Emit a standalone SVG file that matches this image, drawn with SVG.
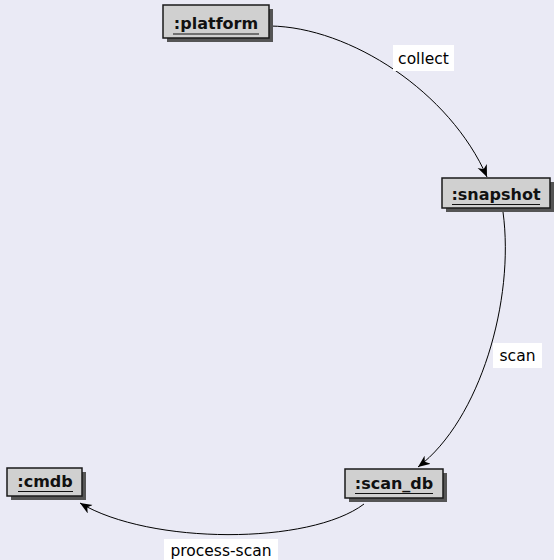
<svg xmlns="http://www.w3.org/2000/svg" width="554" height="560" viewBox="0 0 554 560">
<style>
.shadow{fill:#555555}
.box{fill:#d0d0d0;stroke:#1a1a1a;stroke-width:1.5}
.nt{font-family:"DejaVu Sans",sans-serif;font-weight:bold;font-size:16px;fill:#111;text-anchor:middle}
.ul{stroke:#111;stroke-width:1}
.edge{fill:none;stroke:#000;stroke-width:1;marker-end:url(#arr)}
.lbg{fill:#ffffff}
.lt{font-family:"DejaVu Sans",sans-serif;font-size:15.5px;fill:#000;text-anchor:middle}
</style>
<defs>
<marker id="arr" markerUnits="userSpaceOnUse" markerWidth="14" markerHeight="12" refX="12" refY="5" orient="auto">
<path d="M0,0 L12,5 L0,10 L3.5,5 Z" fill="#000"/>
</marker>
</defs>
<rect x="0" y="0" width="554" height="560" fill="#eaeaf5"/>
<g id="connectors">
<path class="edge" d="M270 26 C350 27 450 92 487 177"/>
<path class="edge" d="M503 212 C515 300 480 420 418 467"/>
<path class="edge" d="M364 504 C310 545 150 545 80 503"/>
<rect class="lbg" x="393" y="45" width="61" height="26"/>
<text class="lt" x="423.5" y="64">collect</text>
<rect class="lbg" x="493" y="343" width="49" height="25"/>
<text class="lt" x="517.5" y="361">scan</text>
<rect class="lbg" x="164" y="539" width="114" height="21"/>
<text class="lt" x="221" y="556">process-scan</text>
</g>
<g id="platform">
<rect class="shadow" x="167" y="9" width="106" height="33"/>
<rect class="box" x="163" y="5" width="106" height="33"/>
<text class="nt" x="216" y="29">:platform</text>
<line class="ul" x1="173" y1="34" x2="259" y2="34"/>
</g>
<g id="snapshot">
<rect class="shadow" x="446" y="182" width="108" height="30"/>
<rect class="box" x="442" y="178" width="108" height="30"/>
<text class="nt" x="496" y="200">:snapshot</text>
<line class="ul" x1="452" y1="204.5" x2="540" y2="204.5"/>
</g>
<g id="scan_db">
<rect class="shadow" x="349" y="473" width="98" height="29"/>
<rect class="box" x="345" y="469" width="98" height="29"/>
<text class="nt" x="394" y="489">:scan_db</text>
<line class="ul" x1="355" y1="493.5" x2="433" y2="493.5"/>
</g>
<g id="cmdb">
<rect class="shadow" x="11" y="472" width="75" height="28"/>
<rect class="box" x="7" y="468" width="75" height="28"/>
<text class="nt" x="45" y="487">:cmdb</text>
<line class="ul" x1="18" y1="491.5" x2="73" y2="491.5"/>
</g>
</svg>
